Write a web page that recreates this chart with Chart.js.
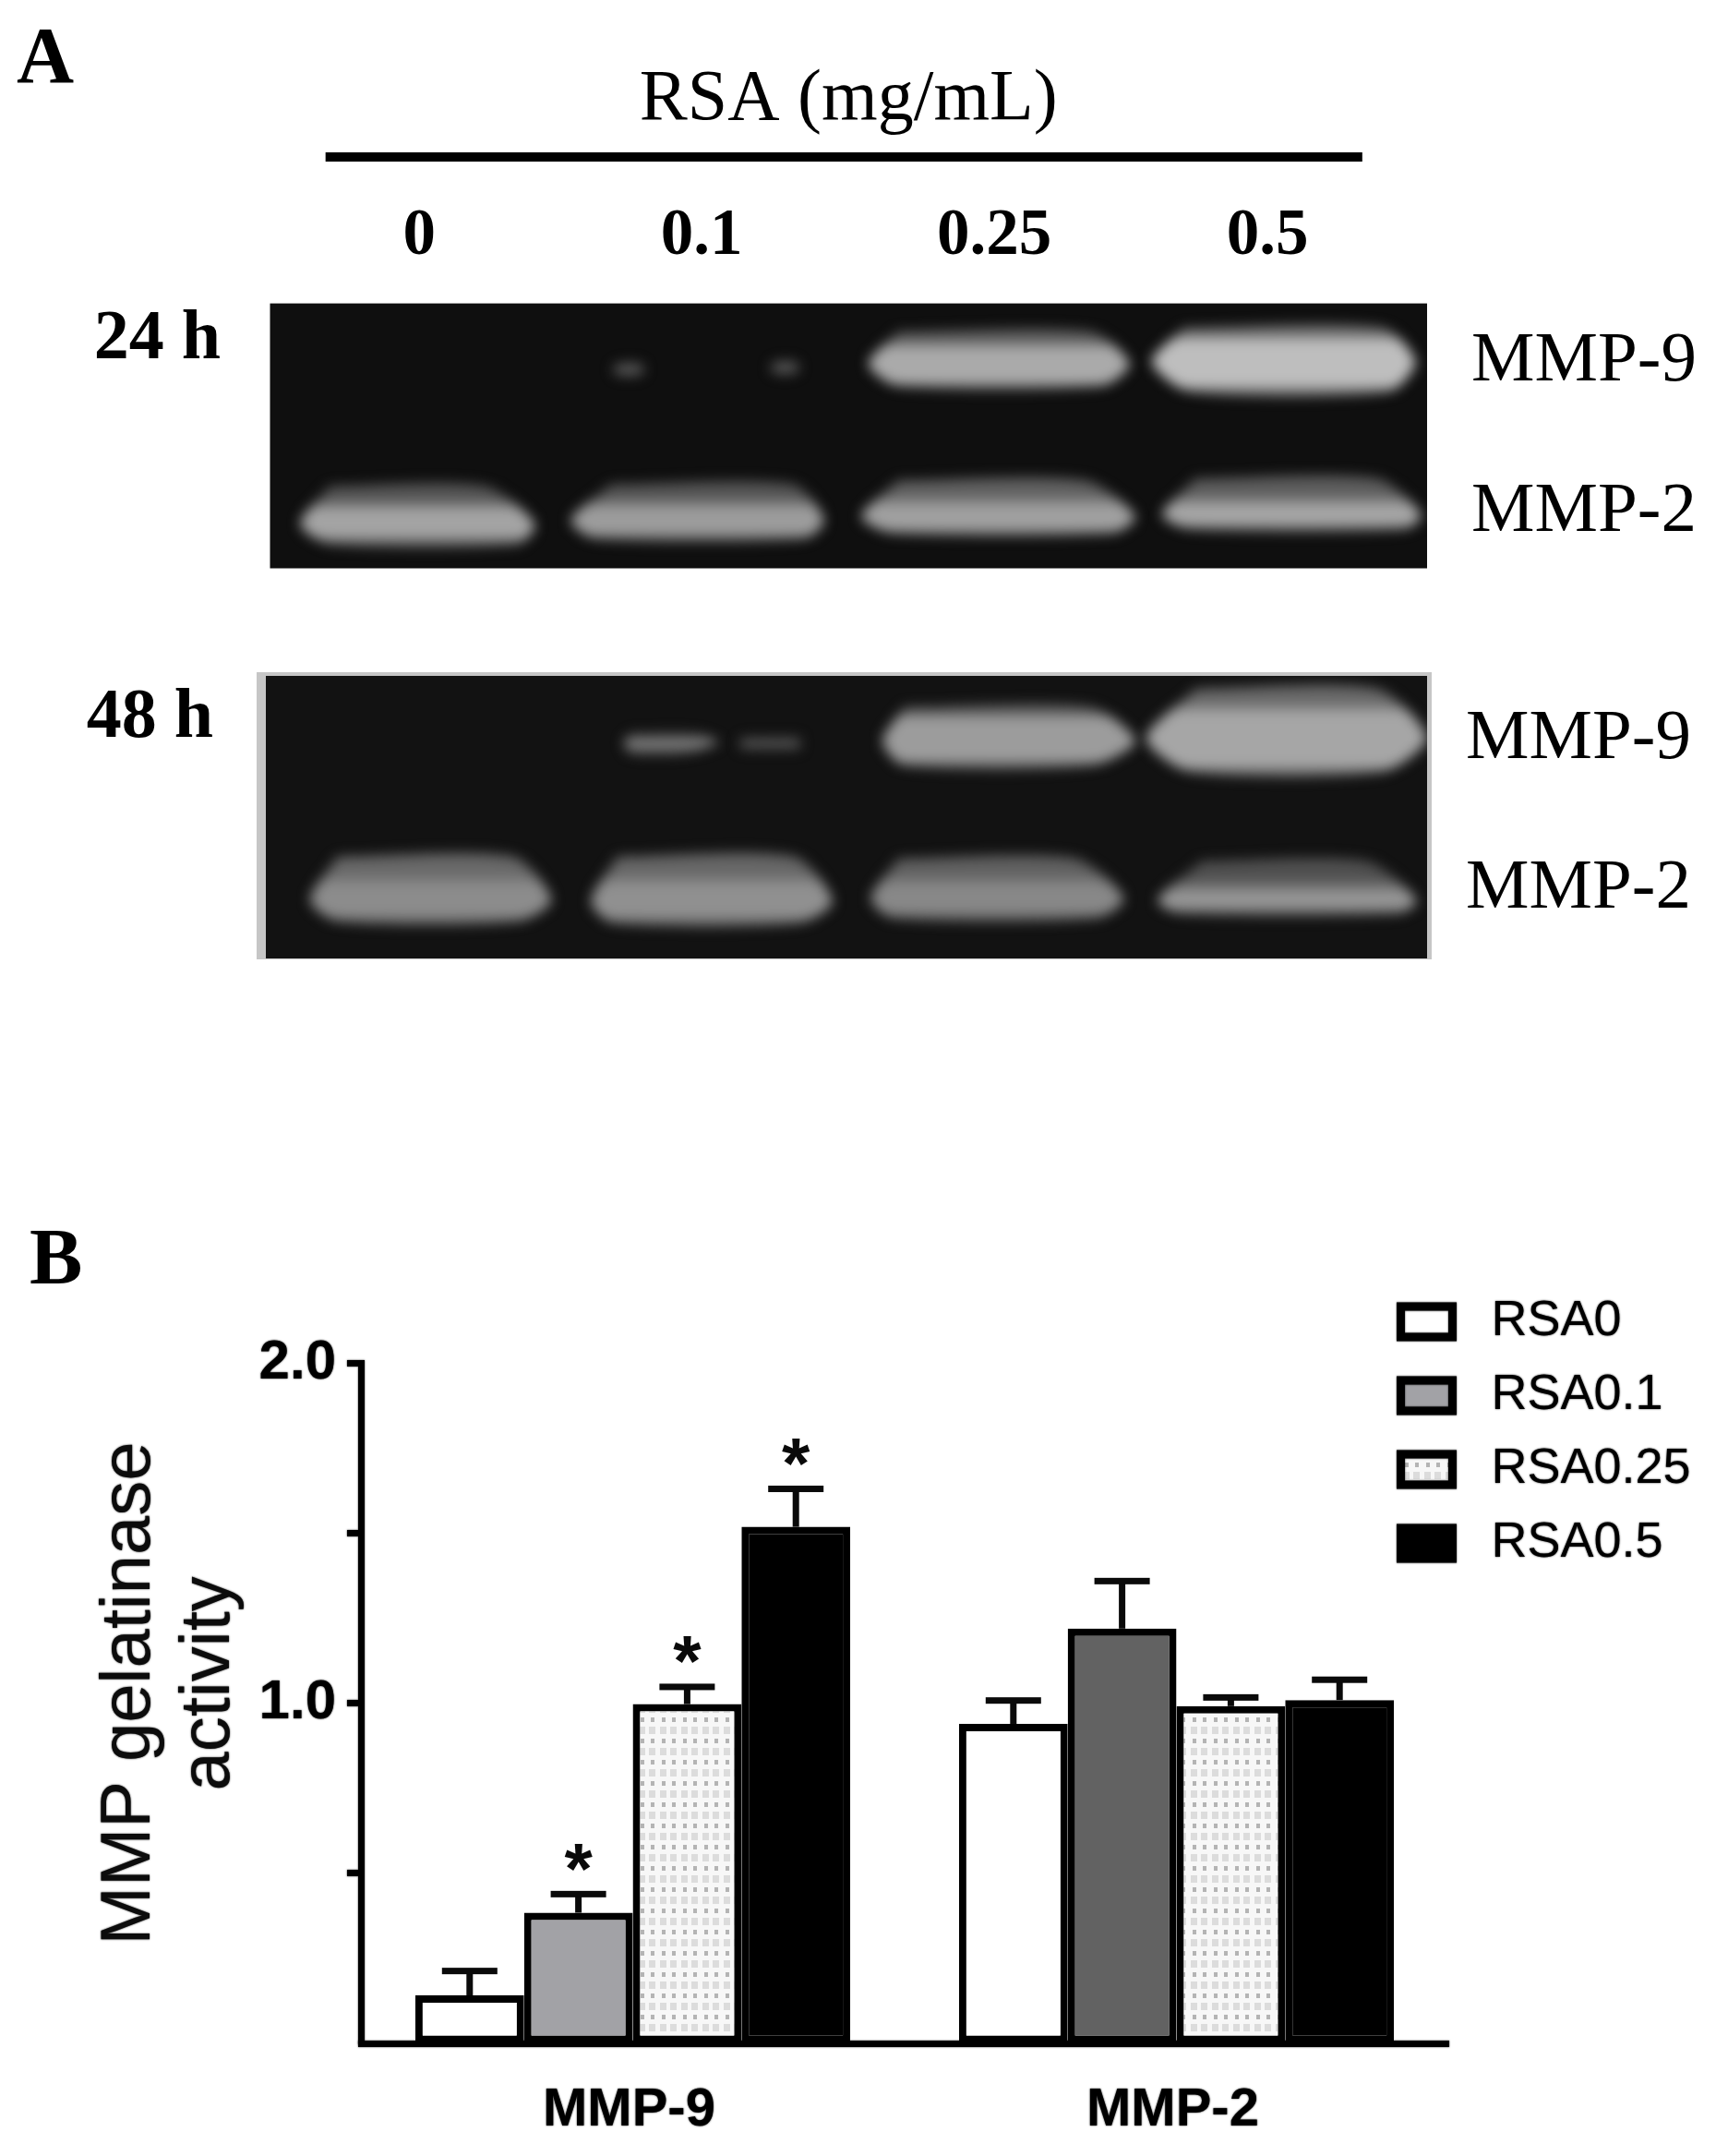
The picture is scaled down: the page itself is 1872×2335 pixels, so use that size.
<!DOCTYPE html>
<html>
<head>
<meta charset="utf-8">
<script src="https://cdn.jsdelivr.net/npm/chart.js@4"></script>
<style>
    html, body { margin: 0; background: #fff; }
    body { position: relative; width: 1872px; height: 2335px; overflow: hidden; }
    .caja { position: absolute; left: 0; width: 1872px; filter: blur(0.7px); }
    .panel { position: absolute; font: bold 86px "Liberation Serif", serif; line-height: 1; color: #000; filter: blur(0.7px); }
</style>
</head>
<body>
<div class="panel" style="left:18px;top:17px">A</div>
<div class="panel" style="left:32px;top:1318px">B</div>
<div class="caja" style="top:0;height:640px"><canvas id="gel24"></canvas></div>
<div class="caja" style="top:640px;height:440px"><canvas id="gel48"></canvas></div>
<div class="caja" style="top:1340px;height:995px"><canvas id="barras"></canvas></div>
<script>
// Panel B: grupos y valores
const grupos = ["MMP-9", "MMP-2"];
const series = ["RSA0", "RSA0.1", "RSA0.25", "RSA0.5"];
const rsa0 = [0.141, 0.939];
const rsa01 = [0.384, 1.219];
const rsa025 = [0.997, 0.991];
const rsa05 = [1.518, 1.009];
const rsa0Error = [0.214, 1.009];
const rsa01Error = [0.44, 1.36];
const rsa025Error = [1.049, 1.018];
const rsa05Error = [1.631, 1.07];
const rsa0Marca = [false, false];
const rsa01Marca = [true, false];
const rsa025Marca = [true, false];
const rsa05Marca = [true, false];
const ticksY = [0, 0.5, 1, 1.5, 2];
const etiquetasY = ["", "", "1.0", "", "2.0"];

// Panel A: carriles y bandas, en % del ancho y alto de cada gel
const carriles = ["0", "0.1", "0.25", "0.5"];
const carrilesX = [12.9, 37.3, 62.6, 86.2];
const bandasEtiquetas = ["MMP-9", "MMP-2"];

const gel24BandasY = [21.9, 78.9];
const gel24Arriba = [10.7, 9.2, 69.0, 68.3, 66.9, 66.1, 22.5, 21.8];
const gel24Centro = [22.8, 22.0, 83.2, 81.8, 80.4, 79.7, 24.9, 24.2];
const gel24Abajo = [31.3, 33.4, 91.0, 88.9, 86.8, 85.3, 27.2, 26.5];
const gel24ArribaIzq = [54.3, 79.0, 5.2, 29.5, 54.3, 80.0, 30.2, 43.8];
const gel24ArribaDer = [71.0, 96.2, 18.6, 45.2, 70.5, 95.7, 31.8, 45.2];
const gel24CentroIzq = [51.7, 76.2, 2.6, 26.0, 51.1, 77.1, 29.6, 43.2];
const gel24CentroDer = [74.3, 99.0, 22.9, 47.9, 74.8, 99.5, 32.4, 45.8];
const gel24AbajoIzq = [54.3, 79.5, 5.2, 28.1, 53.8, 79.5, 30.2, 43.8];
const gel24AbajoDer = [71.9, 96.7, 21.4, 46.2, 72.9, 98.1, 31.8, 45.2];
const gel24BrilloArriba = [17.0, 14.2, 78.2, 77.5, 76.8, 76.8, 23.0, 22.3];
const gel24BrilloAbajo = [29.9, 30.6, 87.5, 86.8, 85.3, 83.2, 26.8, 26.1];
const gel24Tenue = ["#5c5c5c", "#6e6e6e", "#555555", "#555555", "#606060", "#5c5c5c", "#2c2c2c", "#2c2c2c"];
const gel24Brillo = ["#aaaaaa", "#bebebe", "#a4a4a4", "#9c9c9c", "#a0a0a0", "#a6a6a6", "#5a5a5a", "#5a5a5a"];

const gel48BandasY = [22.6, 75.5];
const gel48Arriba = [11.1, 4.6, 64.0, 64.0, 64.6, 65.6, 20.4, 21.8];
const gel48Centro = [23.1, 22.0, 79.3, 79.8, 78.7, 79.3, 23.5, 23.7];
const gel48Abajo = [31.8, 34.0, 86.9, 87.5, 85.8, 84.2, 27.5, 25.8];
const gel48ArribaIzq = [55.0, 80.1, 6.2, 30.3, 54.5, 80.6, 31.5, 41.0];
const gel48ArribaDer = [71.1, 95.7, 21.3, 45.5, 69.7, 94.8, 37.0, 46.0];
const gel48CentroIzq = [53.1, 75.8, 3.8, 28.0, 52.1, 76.8, 30.8, 40.8];
const gel48CentroDer = [74.9, 100, 24.6, 48.8, 73.9, 99.1, 39.0, 46.0];
const gel48AbajoIzq = [55.0, 79.6, 6.2, 29.9, 54.0, 78.7, 31.5, 41.0];
const gel48AbajoDer = [71.1, 96.2, 21.8, 46.0, 71.6, 97.6, 36.0, 46.0];
const gel48BrilloArriba = [14.9, 13.3, 74.4, 74.4, 74.4, 77.1, 22.0, 22.8];
const gel48BrilloAbajo = [29.7, 31.8, 84.2, 84.7, 83.1, 82.0, 25.5, 24.8];
const gel48Tenue = ["#5c5c5c", "#686868", "#686868", "#666666", "#606060", "#505050", "#3a3a3a", "#2a2a2a"];
const gel48Brillo = ["#9c9c9c", "#a6a6a6", "#8c8c8c", "#909090", "#888888", "#969696", "#787878", "#5e5e5e"];

Chart.defaults.animation = false;
Chart.defaults.responsive = true;
Chart.defaults.maintainAspectRatio = false;
Chart.defaults.color = "#000";

const serif = "'Liberation Serif', serif";
const sans = "'Liberation Sans', sans-serif";

// Degradado vertical de una banda: tenue, brillo y tenue otra vez
function degradado(c, g, i) {
    const y = c.chart.scales.y;
    if (!c.chart.chartArea || !y) return g.tenue[i];
    const alto = g.abajo[i] - g.arriba[i];
    const a = (g.brilloArriba[i] - g.arriba[i]) / alto;
    const b = (g.brilloAbajo[i] - g.arriba[i]) / alto;
    const d = c.chart.ctx.createLinearGradient(0, y.getPixelForValue(g.arriba[i]), 0, y.getPixelForValue(g.abajo[i]));
    d.addColorStop(0, g.tenue[i]);
    d.addColorStop(a * 0.55, g.tenue[i]);
    d.addColorStop(a, g.brillo[i]);
    d.addColorStop(b, g.brillo[i]);
    d.addColorStop(1, g.tenue[i]);
    return d;
}

// Arma los poligonos de un gel a partir de sus listas
function bandasGel(g) {
    return g.arriba.map((_, i) => ({
        type: "scatter",
        showLine: true,
        pointRadius: 0,
        borderWidth: 0,
        tension: 0.25,
        fill: "shape",
        backgroundColor: c => degradado(c, g, i),
        data: [
            { x: g.arribaIzq[i], y: g.arriba[i] },
            { x: g.arribaDer[i], y: g.arriba[i] },
            { x: g.centroDer[i], y: g.centro[i] },
            { x: g.abajoDer[i], y: g.abajo[i] },
            { x: g.abajoIzq[i], y: g.abajo[i] },
            { x: g.centroIzq[i], y: g.centro[i] },
            { x: g.arribaIzq[i], y: g.arriba[i] }
        ]
    }));
}

// Fondo del gel, borde gris y difuminado de las bandas
const pluginGel = {
    id: "gel",
    beforeDraw(chart, args, opts) {
        const { ctx, chartArea: a } = chart;
        ctx.save();
        if (opts.borde) {
            ctx.fillStyle = opts.borde;
            ctx.fillRect(a.left - 10, a.top - 4, a.width + 15, a.height + 5);
        }
        ctx.fillStyle = opts.fondo;
        ctx.fillRect(a.left, a.top, a.width, a.height);
        ctx.restore();
    },
    beforeDatasetsDraw(chart) {
        chart.ctx.save();
        chart.ctx.filter = "blur(7px)";
    },
    afterDatasetsDraw(chart) {
        chart.ctx.restore();
    },
    afterDraw(chart, args, opts) {
        if (!opts.raya) return;
        const { ctx, scales: { x } } = chart;
        ctx.save();
        ctx.fillStyle = "#000";
        ctx.fillRect(x.getPixelForValue(opts.raya[0]), opts.raya[2], x.getPixelForValue(opts.raya[1]) - x.getPixelForValue(opts.raya[0]), opts.raya[3]);
        ctx.restore();
    }
};

function crearGel(id, g, extra) {
    return new Chart(document.getElementById(id), {
        type: "scatter",
        data: { datasets: bandasGel(g) },
        plugins: [pluginGel],
        options: {
            layout: { padding: { bottom: extra.abajo } },
            plugins: {
                legend: { display: false },
                tooltip: { enabled: false },
                gel: { fondo: extra.fondo, borde: extra.borde, raya: extra.raya }
            },
            scales: {
                x: {
                    type: "linear",
                    position: "top",
                    min: 0,
                    max: 100,
                    grid: { display: false },
                    border: { display: false },
                    title: extra.tituloX,
                    afterBuildTicks: s => { s.ticks = carrilesX.map(v => ({ value: v })); },
                    afterFit: s => { s.height = extra.alto; s.paddingLeft = 0; s.paddingRight = 0; },
                    ticks: {
                        display: extra.verCarriles,
                        autoSkip: false,
                        maxRotation: 0,
                        padding: 21,
                        font: { family: serif, size: 71, weight: "bold" },
                        callback: (v, i) => carriles[i]
                    }
                },
                y: {
                    type: "linear",
                    position: "left",
                    min: 0,
                    max: 100,
                    reverse: true,
                    grid: { display: false },
                    border: { display: false },
                    afterBuildTicks: s => { s.ticks = [{ value: extra.horasY }]; },
                    afterFit: s => { s.width = extra.izquierda; s.paddingTop = 0; s.paddingBottom = 0; },
                    ticks: {
                        autoSkip: false,
                        padding: extra.izquierda - extra.horasFin - 8,
                        font: { family: serif, size: 76, weight: "bold" },
                        callback: () => extra.horas
                    }
                },
                y2: {
                    type: "linear",
                    position: "right",
                    min: 0,
                    max: 100,
                    reverse: true,
                    grid: { display: false },
                    border: { display: false },
                    afterBuildTicks: s => { s.ticks = g.bandasY.map(v => ({ value: v })); },
                    afterFit: s => { s.width = 326; s.paddingTop = 0; s.paddingBottom = 0; },
                    ticks: {
                        autoSkip: false,
                        padding: extra.margenDer,
                        font: { family: serif, size: 77 },
                        callback: (v, i) => bandasEtiquetas[i]
                    }
                }
            }
        }
    });
}

crearGel("gel24", {
    bandasY: gel24BandasY, arriba: gel24Arriba, centro: gel24Centro, abajo: gel24Abajo,
    arribaIzq: gel24ArribaIzq, arribaDer: gel24ArribaDer, centroIzq: gel24CentroIzq, centroDer: gel24CentroDer,
    abajoIzq: gel24AbajoIzq, abajoDer: gel24AbajoDer, brilloArriba: gel24BrilloArriba, brilloAbajo: gel24BrilloAbajo,
    tenue: gel24Tenue, brillo: gel24Brillo
}, {
    fondo: "#0f0f0f", borde: null, raya: [4.8, 94.4, 165, 10],
    alto: 328.6, abajo: 24.5, izquierda: 292.5, horas: "24 h", horasY: 14, horasFin: 239, margenDer: 40,
    verCarriles: true,
    tituloX: {
        display: true,
        text: "RSA (mg/mL)",
        padding: { top: 62, bottom: 0 },
        font: { family: serif, size: 78 }
    }
});

crearGel("gel48", {
    bandasY: gel48BandasY, arriba: gel48Arriba, centro: gel48Centro, abajo: gel48Abajo,
    arribaIzq: gel48ArribaIzq, arribaDer: gel48ArribaDer, centroIzq: gel48CentroIzq, centroDer: gel48CentroDer,
    abajoIzq: gel48AbajoIzq, abajoDer: gel48AbajoDer, brilloArriba: gel48BrilloArriba, brilloAbajo: gel48BrilloAbajo,
    tenue: gel48Tenue, brillo: gel48Brillo
}, {
    fondo: "#121212", borde: "#c6c6c6", raya: null,
    alto: 92, abajo: 42, izquierda: 288, horas: "48 h", horasY: 15.2, horasFin: 231, margenDer: 34,
    verCarriles: false,
    tituloX: { display: false }
});

// Trama de puntos de RSA0.25
function trama() {
    const c = document.createElement("canvas");
    c.width = 23;
    c.height = 23;
    const t = c.getContext("2d");
    t.fillStyle = "#f7f7f7";
    t.fillRect(0, 0, 23, 23);
    t.fillStyle = "#dcdcdc";
    t.fillRect(2, 1, 7, 8);
    t.fillRect(13, 1, 7, 8);
    t.fillStyle = "#b4b4b4";
    t.fillRect(4, 14, 4, 5);
    t.fillRect(15, 14, 4, 5);
    return t.createPattern(c, "repeat");
}
const puntos = trama();

const colores = [
    ["#ffffff", "#ffffff"],
    ["#a2a2a6", "#626262"],
    [puntos, puntos],
    ["#000000", "#000000"]
];
const valores = [rsa0, rsa01, rsa025, rsa05];
const errores = [rsa0Error, rsa01Error, rsa025Error, rsa05Error];
const marcas = [rsa0Marca, rsa01Marca, rsa025Marca, rsa05Marca];

function sombraTexto(ctx, activa) {
    ctx.shadowColor = activa ? "rgba(0,0,0,0.85)" : "transparent";
    ctx.shadowBlur = activa ? 2 : 0;
}

// Barras de error, asteriscos y el trazo algo mas grueso del texto
const pluginError = {
    id: "errores",
    beforeDraw(chart) {
        sombraTexto(chart.ctx, true);
    },
    beforeDatasetsDraw(chart) {
        sombraTexto(chart.ctx, false);
    },
    afterDatasetsDraw(chart) {
        const { ctx, scales: { y } } = chart;
        ctx.save();
        ctx.fillStyle = "#0a0a0a";
        ctx.font = "bold 78px " + sans;
        ctx.textAlign = "center";
        ctx.textBaseline = "alphabetic";
        chart.data.datasets.forEach((ds, d) => {
            chart.getDatasetMeta(d).data.forEach((barra, i) => {
                const tope = y.getPixelForValue(errores[d][i]);
                ctx.fillRect(barra.x - 3.5, tope, 7, barra.y - tope);
                ctx.fillRect(barra.x - 30, tope - 3, 60, 7);
                if (marcas[d][i]) ctx.fillText("*", barra.x, tope - 0);
            });
        });
        ctx.restore();
        sombraTexto(ctx, true);
    }
};

// Mueve la leyenda a la esquina superior derecha
const pluginLeyenda = {
    id: "leyendaFija",
    afterLayout(chart) {
        const l = chart.legend;
        l.left = 1491.5;
        l.right = 1872;
        l.top = 38.5;
        l.bottom = 500;
    }
};

new Chart(document.getElementById("barras"), {
    type: "bar",
    data: {
        labels: grupos,
        datasets: series.map((nombre, i) => ({
            label: nombre,
            data: valores[i],
            backgroundColor: colores[i],
            borderColor: "#000",
            borderWidth: 8,
            borderSkipped: false,
            barPercentage: 1,
            categoryPercentage: 0.8
        }))
    },
    plugins: [pluginError, pluginLeyenda],
    options: {
        layout: { padding: { top: 136, right: 303 } },
        plugins: {
            tooltip: { enabled: false },
            legend: {
                position: "chartArea",
                align: "start",
                labels: {
                    boxWidth: 56,
                    boxHeight: 33,
                    padding: 26,
                    color: "#111",
                    font: { family: sans, size: 54 },
                    generateLabels: () => series.map((nombre, i) => ({
                        text: " " + nombre,
                        fillStyle: colores[i][0],
                        strokeStyle: "#000",
                        lineWidth: 9,
                        datasetIndex: i
                    }))
                }
            }
        },
        scales: {
            x: {
                grid: { display: false },
                border: { color: "#000", width: 7 },
                afterFit: s => { s.height = 122; },
                ticks: {
                    padding: 30,
                    labelOffset: -4,
                    maxRotation: 0,
                    font: { family: sans, size: 58, weight: "bold" }
                }
            },
            y: {
                min: 0,
                max: 2,
                afterBuildTicks: s => { s.ticks = ticksY.map(v => ({ value: v })); },
                afterFit: s => { s.width = 391; },
                border: { color: "#000", width: 7 },
                grid: {
                    drawOnChartArea: false,
                    tickLength: 15,
                    tickWidth: 7,
                    tickColor: c => (c.tick && c.tick.value === 0 ? "transparent" : "#000")
                },
                title: {
                    display: true,
                    text: [" MMP gelatinase", "  activity"],
                    color: "#0c0c0c",
                    padding: { top: 98, bottom: 0 },
                    font: { family: sans, size: 76, lineHeight: 1.13 }
                },
                ticks: {
                    padding: 12,
                    autoSkip: false,
                    font: { family: sans, size: 60, weight: "bold" },
                    callback: (v, i) => etiquetasY[i]
                }
            }
        }
    }
});
</script>
</body>
</html>
